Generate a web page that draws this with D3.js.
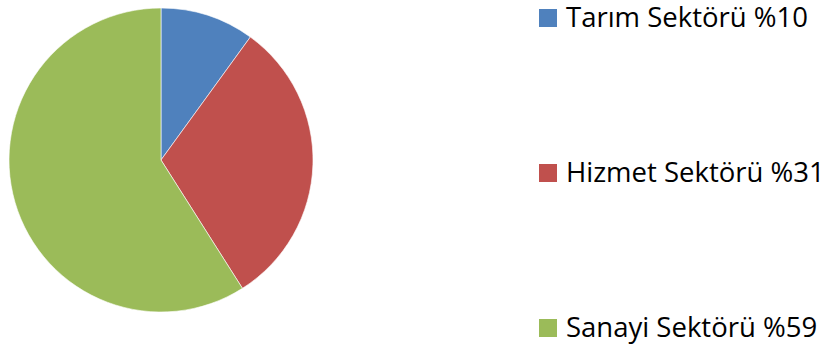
<!DOCTYPE html>
<html>
<head>
<meta charset="utf-8">
<script src="https://cdn.jsdelivr.net/npm/d3@7"></script>
<style>
  body { margin: 0; background: #fff; }
  text { font-family: "Open Sans", "Liberation Sans", sans-serif; }
</style>
</head>
<body>
<script>
// chart data
const sectors = ['Tarım Sektörü', 'Hizmet Sektörü', 'Sanayi Sektörü'];
const shares = [10, 31, 59];
const colours = ['#4F81BD', '#C0504D', '#9BBB59'];

const width = 827;
const height = 349;
const cx = 161, cy = 160, radius = 152;

const data = sectors.map((s, i) => ({ name: s, value: shares[i], colour: colours[i] }));

let svg = d3.select('body')
    .append('svg')
        .attr('width', width)
        .attr('height', height);

const pie = d3.pie()
    .sort(null)
    .value(d => d.value);

const arc = d3.arc()
    .innerRadius(0)
    .outerRadius(radius);

let g = svg.append('g')
    .attr('transform', `translate(${cx}, ${cy})`);

g.selectAll('path')
    .data(pie(data))
    .enter()
        .append('path')
            .attr('d', arc)
            .attr('fill', d => d.data.colour)
            .attr('stroke', '#ffffff')
            .attr('stroke-width', 0.6);

// legend
const legendY = d3.scalePoint()
    .domain(sectors)
    .range([18, 328]);

let legend = svg.append('g')
    .selectAll('g')
    .data(data)
    .enter()
        .append('g')
            .attr('transform', d => `translate(539, ${legendY(d.name)})`);

legend.append('rect')
    .attr('x', 0)
    .attr('y', -9)
    .attr('width', 18)
    .attr('height', 18)
    .attr('fill', d => d.colour);

legend.append('text')
    .attr('x', 27)
    .attr('y', 9)
    .attr('font-size', 27.5)
    .attr('fill', '#000')
    .text(d => `${d.name} %${d.value}`);
</script>
</body>
</html>
